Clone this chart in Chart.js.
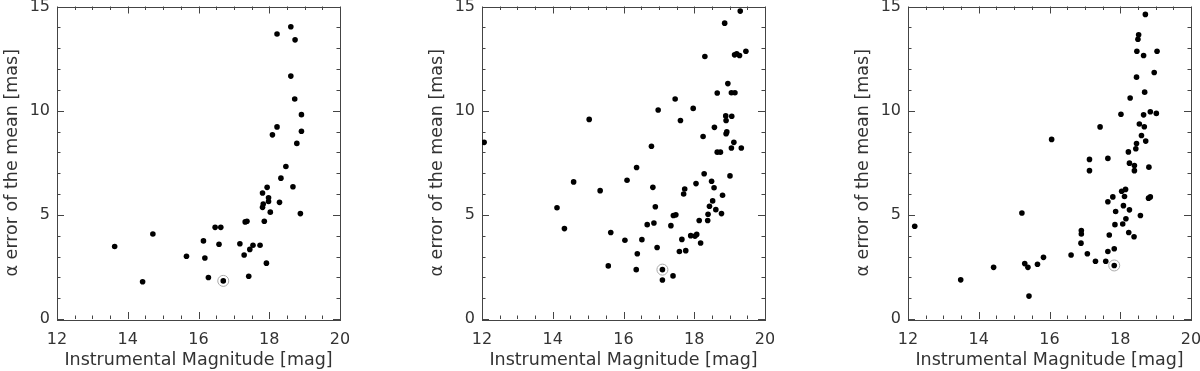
<!DOCTYPE html>
<html>
<head>
<meta charset="utf-8">
<script src="https://cdn.jsdelivr.net/npm/chart.js@4"></script>
<style>
  html, body { margin: 0; padding: 0; background: #fff; }
  body { width: 1200px; height: 371px; position: relative; overflow: hidden; }
  .panel { position: absolute; top: 0; height: 371px; width: 349px; }
</style>
</head>
<body>
<div class="panel" style="left:0px"><canvas id="chart1"></canvas></div>
<div class="panel" style="left:425px"><canvas id="chart2"></canvas></div>
<div class="panel" style="left:851px"><canvas id="chart3"></canvas></div>

<script>
// panel 1
const mag1 = [13.63, 14.42, 14.71, 15.66, 16.14, 16.18, 16.28, 16.47, 16.58, 16.63, 16.70,
    17.17, 17.29, 17.32, 17.37, 17.42, 17.45, 17.54, 17.74, 17.81, 17.81, 17.83, 17.86,
    17.92, 17.94, 17.98, 17.98, 18.03, 18.09, 18.22, 18.22, 18.29, 18.33, 18.47, 18.61,
    18.61, 18.67, 18.72, 18.73, 18.78, 18.88, 18.91, 18.91];
const err1 = [3.48, 1.79, 4.08, 3.01, 3.75, 2.93, 1.99, 4.40, 3.59, 4.40, 1.83,
    3.61, 3.07, 4.66, 4.69, 2.05, 3.34, 3.54, 3.54, 6.05, 5.36, 5.52, 4.69,
    2.68, 6.32, 5.82, 5.64, 5.13, 8.84, 13.68, 9.22, 5.60, 6.76, 7.32, 14.03,
    11.66, 6.35, 10.56, 13.40, 8.43, 5.06, 9.81, 9.01];

// panel 2
const mag2 = [12.06, 14.12, 14.33, 14.59, 15.03, 15.34, 15.57, 15.64, 16.04, 16.10, 16.36,
    16.37, 16.39, 16.52, 16.67, 16.79, 16.83, 16.86, 16.90, 16.95, 16.98, 17.10, 17.10,
    17.34, 17.40, 17.41, 17.46, 17.48, 17.58, 17.61, 17.65, 17.70, 17.73, 17.76, 17.90,
    17.97, 18.02, 18.05, 18.07, 18.14, 18.18, 18.25, 18.28, 18.30, 18.38, 18.39, 18.43,
    18.49, 18.52, 18.56, 18.57, 18.61, 18.65, 18.65, 18.74, 18.77, 18.80, 18.86, 18.89,
    18.90, 18.90, 18.92, 18.95, 19.01, 19.06, 19.05, 19.05, 19.12, 19.15, 19.14, 19.20,
    19.28, 19.30, 19.33, 19.46];
const err2 = [8.48, 5.34, 4.34, 6.58, 9.58, 6.16, 2.55, 4.15, 3.78, 6.66, 2.37,
    7.27, 3.13, 3.81, 4.53, 8.29, 6.32, 4.61, 5.39, 3.43, 10.03, 2.37, 1.87,
    4.48, 2.07, 4.97, 10.56, 5.00, 3.24, 9.53, 3.82, 6.00, 6.24, 3.28, 4.00,
    10.11, 3.98, 6.50, 4.06, 4.73, 3.65, 8.76, 6.97, 12.60, 4.73, 5.03, 5.41,
    6.61, 5.67, 6.30, 9.20, 5.25, 10.85, 8.01, 8.01, 5.06, 5.94, 14.20, 9.75,
    8.89, 9.53, 8.98, 11.30, 6.87, 9.73, 8.21, 10.86, 8.48, 10.86, 12.68, 12.73,
    12.65, 14.78, 8.21, 12.85];

// panel 3
const mag3 = [12.19, 13.49, 14.42, 15.22, 15.30, 15.39, 15.42, 15.66, 15.83, 16.06, 16.61,
    16.90, 16.90, 16.89, 17.07, 17.13, 17.13, 17.30, 17.43, 17.59, 17.65, 17.65, 17.65,
    17.69, 17.79, 17.83, 17.85, 17.83, 17.87, 18.02, 18.04, 18.07, 18.09, 18.12, 18.15,
    18.16, 18.23, 18.24, 18.26, 18.26, 18.28, 18.39, 18.40, 18.40, 18.44, 18.46, 18.46,
    18.47, 18.50, 18.52, 18.54, 18.57, 18.60, 18.66, 18.66, 18.68, 18.69, 18.71, 18.72,
    18.80, 18.81, 18.85, 18.85, 18.96, 19.02, 19.04];
const err3 = [4.45, 1.88, 2.48, 5.09, 2.66, 2.48, 1.10, 2.63, 2.96, 8.62, 3.07,
    4.25, 4.08, 3.64, 3.13, 7.66, 7.12, 2.77, 9.22, 2.77, 7.71, 5.63, 3.24,
    4.03, 5.86, 3.37, 4.53, 2.57, 5.16, 9.83, 6.13, 4.56, 5.44, 5.88, 6.22,
    4.81, 8.02, 4.15, 7.48, 5.24, 10.61, 3.95, 7.37, 7.12, 8.17, 8.42, 11.61,
    12.85, 13.43, 13.64, 9.36, 4.97, 8.81, 12.65, 9.80, 9.23, 10.89, 14.62, 8.54,
    5.80, 7.29, 9.95, 5.86, 11.83, 9.87, 12.85];

// the reference star marked with a ring in each panel
const ringMag = [16.70, 17.10, 17.83];
const ringErr = [1.83, 2.37, 2.57];

const xLabelTicks = [12, 14, 16, 18, 20];
const xMinorTicks = [12.5, 13, 13.5, 14.5, 15, 15.5, 16.5, 17, 17.5, 18.5, 19, 19.5];
const yLabelTicks = [0, 5, 10, 15];
const yMinorTicks = [1, 2, 3, 4, 6, 7, 8, 9, 11, 12, 13, 14];

const ink = "#333";
const tickFont = { family: "DejaVu Sans", size: 16 };
const titleFont = { family: "DejaVu Sans", size: 17.5 };

// box + inward ticks on all four sides, IDL style
const tickBox = {
    id: "tickBox",
    beforeDatasetsDraw(chart) {
        const { ctx, chartArea: a, scales: { x, y } } = chart;
        ctx.save();
        ctx.strokeStyle = "#444";
        ctx.lineWidth = 1;
        ctx.strokeRect(Math.round(a.left) + 0.5, Math.round(a.top) + 0.5,
            Math.round(a.width), Math.round(a.height));
        ctx.beginPath();
        const xt = (v, len) => {
            const px = Math.round(x.getPixelForValue(v)) + 0.5;
            ctx.moveTo(px, a.bottom); ctx.lineTo(px, a.bottom - len);
            ctx.moveTo(px, a.top); ctx.lineTo(px, a.top + len);
        };
        const yt = (v, len) => {
            const py = Math.round(y.getPixelForValue(v)) + 0.5;
            ctx.moveTo(a.left, py); ctx.lineTo(a.left + len, py);
            ctx.moveTo(a.right, py); ctx.lineTo(a.right - len, py);
        };
        xLabelTicks.forEach(v => xt(v, 7));
        xMinorTicks.forEach(v => xt(v, 3.5));
        yLabelTicks.forEach(v => yt(v, 7));
        yMinorTicks.forEach(v => yt(v, 3.5));
        ctx.stroke();
        ctx.restore();
    }
};

function makePanel(id, mags, errs, ri) {
    const points = mags.map((m, i) => ({ x: m, y: errs[i] }));

    new Chart(document.getElementById(id), {
        type: "scatter",
        data: {
            datasets: [{
                data: points,
                pointRadius: 2.8,
                pointBorderWidth: 0,
                backgroundColor: "#000"
            }, {
                data: [{ x: ringMag[ri], y: ringErr[ri] }],
                pointRadius: 5.5,
                pointBorderWidth: 1,
                borderColor: "#aaa",
                backgroundColor: "rgba(0,0,0,0)"
            }]
        },
        options: {
            responsive: true,
            maintainAspectRatio: false,
            animation: false,
            events: [],
            layout: { padding: { top: 1, right: 9, left: 0, bottom: 0 } },
            plugins: { legend: { display: false }, tooltip: { enabled: false } },
            scales: {
                x: {
                    type: "linear",
                    min: 12,
                    max: 20,
                    afterFit: s => { s.height = 52; s.paddingLeft = 0; s.paddingRight = 0; },
                    afterBuildTicks: s => { s.ticks = xLabelTicks.map(v => ({ value: v })); },
                    ticks: { padding: 11, color: ink, font: tickFont, maxRotation: 0 },
                    grid: { display: false, drawTicks: false },
                    border: { display: false },
                    title: {
                        display: true,
                        text: "Instrumental Magnitude [mag]",
                        color: ink,
                        font: titleFont,
                        padding: { top: 0, bottom: 0 }
                    }
                },
                y: {
                    type: "linear",
                    min: 0,
                    max: 15,
                    afterFit: s => { s.width = 57; s.paddingTop = 0; s.paddingBottom = 0; },
                    afterBuildTicks: s => { s.ticks = yLabelTicks.map(v => ({ value: v })); },
                    ticks: { padding: 7, color: ink, font: tickFont },
                    grid: { display: false, drawTicks: false },
                    border: { display: false },
                    title: {
                        display: true,
                        text: "α error of the mean [mas]",
                        color: ink,
                        font: titleFont,
                        padding: { top: 2, bottom: 0 }
                    }
                }
            }
        },
        plugins: [tickBox]
    });
}

makePanel("chart1", mag1, err1, 0);
makePanel("chart2", mag2, err2, 1);
makePanel("chart3", mag3, err3, 2);
</script>
</body>
</html>
